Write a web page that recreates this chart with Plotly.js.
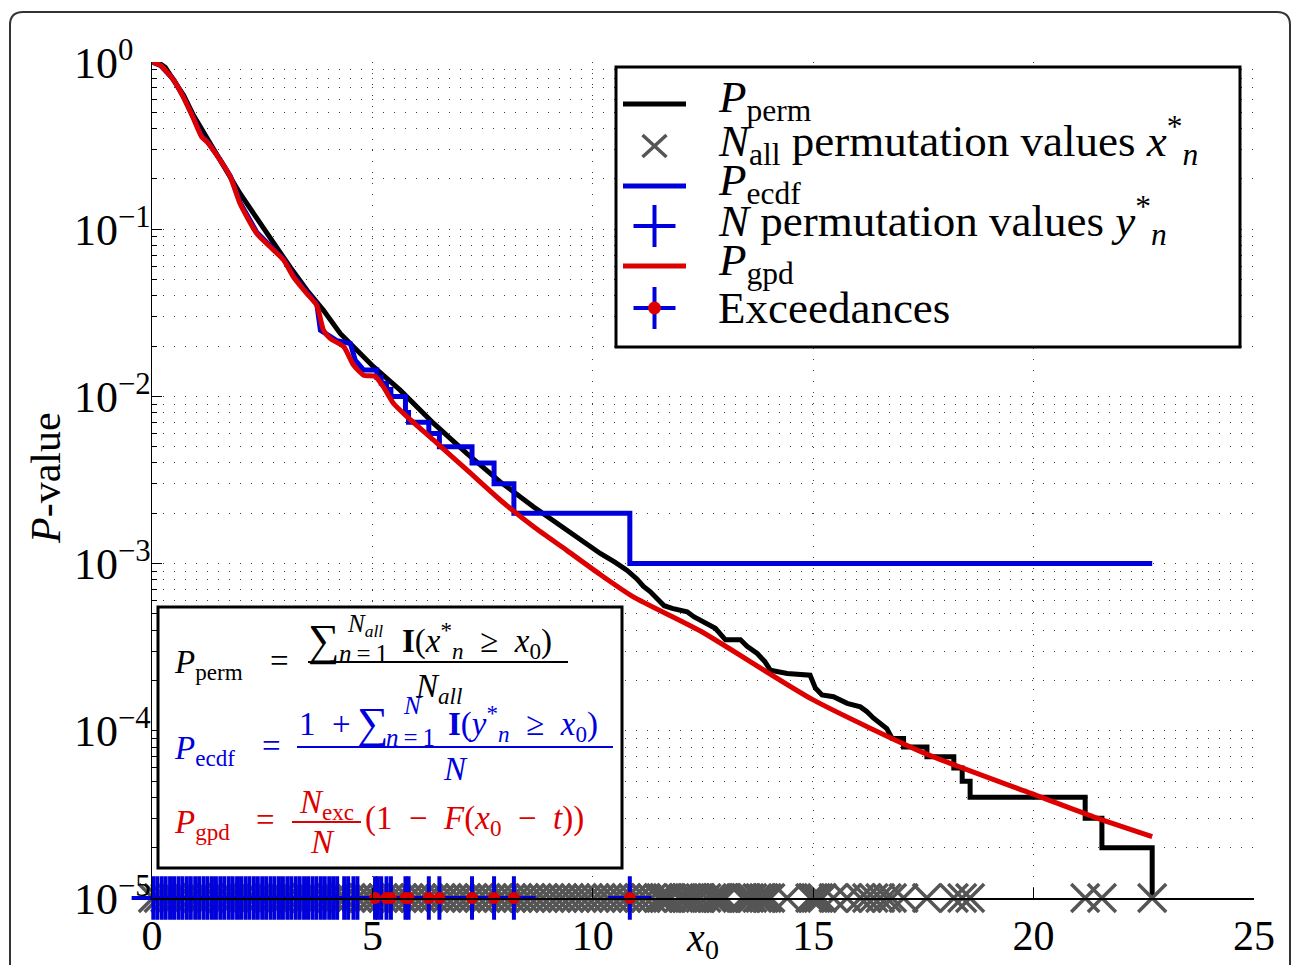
<!DOCTYPE html>
<html>
<head>
<meta charset="utf-8">
<script src="https://cdn.plot.ly/plotly-3.0.1.min.js"></script>
<style>
html,body{margin:0;padding:0;background:#fff;}
#chart{width:1293px;height:965px;}
</style>
</head>
<body>
<div id="chart"></div>
<script>
// ---------------- DATA ----------------
// P_perm : empirical p-value from all N_all permutations (black)
const permX = [0, 0.15, 0.30, 0.49, 0.72, 0.94, 1.25, 1.62, 2.00, 2.38, 2.76, 3.14, 3.52, 3.89, 4.27, 4.65, 5.03, 5.63, 6.39, 7.14, 7.90, 8.66, 9.41, 10.17, 10.50, 10.78, 11.00, 11.15, 11.30, 11.46, 11.62, 11.80, 12.14, 12.30, 12.44, 12.60, 12.78, 13.01, 13.35, 13.50, 13.73, 13.90, 14.03, 14.41, 14.93, 15.05, 15.20, 15.46, 15.77, 16.07, 16.22, 16.37, 16.52, 16.67, 16.79, 17.05, 17.05, 17.58, 17.58, 18.19, 18.19, 18.38, 18.38, 18.56, 18.56, 21.17, 21.17, 21.55, 21.55, 22.69, 22.69];
const permP = [1, 0.99, 0.93, 0.78, 0.63, 0.48, 0.35, 0.247, 0.163, 0.116, 0.082, 0.059, 0.043, 0.0327, 0.0238, 0.0189, 0.0150, 0.0109, 0.00689, 0.00456, 0.00308, 0.00218, 0.00158, 0.00115, 0.00102, 9.1e-4, 8.1e-4, 7.3e-4, 6.8e-4, 6.2e-4, 5.6e-4, 5.4e-4, 5.15e-4, 4.8e-4, 4.6e-4, 4.3e-4, 4.1e-4, 3.5e-4, 3.5e-4, 3.2e-4, 2.9e-4, 2.6e-4, 2.3e-4, 2.2e-4, 2.15e-4, 1.8e-4, 1.64e-4, 1.6e-4, 1.46e-4, 1.39e-4, 1.3e-4, 1.19e-4, 1.1e-4, 1.03e-4, 9e-5, 9e-5, 8e-5, 8e-5, 7e-5, 7e-5, 6e-5, 6e-5, 5e-5, 5e-5, 4e-5, 4e-5, 3e-5, 3e-5, 2e-5, 2e-5, 1e-5];

// P_ecdf : estimate from N permutations (blue)
const ecdfX = [0, 0.19, 0.49, 0.72, 0.94, 1.13, 1.25, 1.55, 1.78, 2.00, 2.38, 2.68, 2.99, 3.21, 3.52, 3.74, 3.82, 4.12, 4.20, 4.36, 4.50, 4.61, 4.80, 5.10, 5.10, 5.20, 5.20, 5.32, 5.32, 5.42, 5.42, 5.75, 5.75, 5.82, 5.82, 6.28, 6.28, 6.52, 6.52, 7.26, 7.26, 7.76, 7.76, 8.21, 8.21, 10.84, 10.84, 22.69];
const ecdfP = [1, 0.955, 0.785, 0.615, 0.465, 0.36, 0.336, 0.26, 0.207, 0.144, 0.0955, 0.0795, 0.066, 0.0525, 0.0415, 0.0355, 0.0249, 0.0222, 0.0215, 0.0211, 0.0207, 0.0165, 0.0144, 0.0144, 0.013, 0.013, 0.012, 0.012, 0.011, 0.011, 0.010, 0.010, 0.008, 0.008, 0.007, 0.007, 0.006, 0.006, 0.005, 0.005, 0.004, 0.004, 0.003, 0.003, 0.002, 0.002, 0.001, 0.001];

// P_gpd : generalized Pareto tail approximation (red)
const gpdX = [0, 0.19, 0.49, 0.72, 0.94, 1.13, 1.25, 1.55, 1.78, 2.00, 2.38, 2.68, 2.99, 3.21, 3.52, 3.74, 3.89, 4.04, 4.35, 4.57, 4.80, 5.06, 5.25, 5.48, 5.79, 6.39, 7.15, 7.90, 8.66, 9.41, 10.17, 10.93, 12.44, 15.00, 17.55, 20.15, 21.36, 22.69];
const gpdP = [1, 0.955, 0.78, 0.61, 0.46, 0.356, 0.333, 0.258, 0.205, 0.142, 0.094, 0.0785, 0.0652, 0.0518, 0.041, 0.035, 0.0249, 0.0222, 0.0198, 0.0154, 0.0134, 0.0132, 0.0114, 0.00907, 0.00755, 0.00547, 0.00362, 0.0024, 0.00166, 0.0012, 8.6e-4, 6.3e-4, 3.95e-4, 1.53e-4, 7.3e-5, 4.03e-5, 3.06e-5, 2.33e-5];

// N_all permutation values x*_n (grey crosses)
const allPermValues = [0.02, 0.15, 0.30, 0.44, 0.58, 0.73, 0.88, 1.02, 1.17, 1.31, 1.46, 1.60, 1.75, 1.90, 2.04, 2.19, 2.33, 2.48, 2.62, 2.77, 2.91, 3.06, 3.20, 3.35, 3.50, 3.64, 3.79, 3.93, 4.08, 4.22, 4.37, 4.51, 4.66, 4.80, 4.95, 5.09, 5.24, 5.38, 5.53, 5.67, 5.82, 5.97, 6.11, 6.26, 6.40, 6.55, 6.69, 6.84, 6.98, 7.13, 7.27, 7.42, 7.57, 7.71, 7.86, 8.00, 8.15, 8.29, 8.44, 8.58, 8.73, 8.87, 9.02, 9.17, 9.31, 9.46, 9.60, 9.75, 9.89, 10.04, 10.18, 10.33, 10.47, 10.62, 10.76, 10.91, 11.05, 11.20, 11.34, 11.49, 11.55, 11.62, 11.70, 11.78, 11.95, 12.05, 12.14, 12.25, 12.33, 12.44, 12.58, 12.70, 12.78, 12.85, 12.90, 12.97, 13.01, 13.40, 13.48, 13.55, 13.62, 13.73, 13.80, 13.88, 13.95, 14.03, 14.41, 14.93, 15.00, 15.06, 15.12, 15.20, 15.46, 15.77, 16.07, 16.22, 16.37, 16.52, 16.67, 16.79, 17.05, 17.58, 18.19, 18.38, 18.56, 21.17, 21.55, 22.69];

// N permutation values y*_n (blue plus signs)
const nPermValues = [0.03, 0.12, 0.22, 0.31, 0.41, 0.50, 0.60, 0.69, 0.79, 0.88, 0.98, 1.07, 1.17, 1.26, 1.36, 1.45, 1.55, 1.64, 1.74, 1.83, 1.93, 2.02, 2.12, 2.21, 2.31, 2.40, 2.50, 2.59, 2.69, 2.78, 2.88, 2.97, 3.07, 3.16, 3.26, 3.35, 3.45, 3.54, 3.64, 3.73, 3.83, 3.92, 4.02, 4.11, 4.20, 4.36, 4.45, 4.57, 4.66, 5.12, 5.20];

// Exceedances above the threshold t
const exceedances = [5.06, 5.32, 5.42, 5.75, 5.82, 6.28, 6.52, 7.26, 7.76, 8.21, 10.84];

// level at which the sample values are marked (bottom of the axis)
const markLevel = 1e-5;

// tick labels
const xTickVals = [0, 5, 10, 15, 20, 25];
const xTickText = ['0', '5', '10', '15', '20', '25'];
const yTickVals = [1e-5, 1e-4, 1e-3, 1e-2, 1e-1, 1];
const yTickText = ['10<sup>\u22125</sup>', '10<sup>\u22124</sup>', '10<sup>\u22123</sup>', '10<sup>\u22122</sup>', '10<sup>\u22121</sup>', '10<sup>0</sup>'];
const minorDigits = [2, 3, 4, 5, 6, 7, 8, 9];

// ---------------- STYLE ----------------
const BLACK = '#000000', BLUE = '#0000dd', RED = '#dd0000', GREY = '#555555';
const SERIF = 'Liberation Serif, Times New Roman, serif';

const W = 1293, H = 965;
const M = {l: 152, r: 39, t: 62, b: 67};
const PW = W - M.l - M.r, PH = H - M.t - M.b;
// pixel -> paper helpers for decorations
const px = v => (v - M.l) / PW;
const py = v => (H - M.b - v) / PH;

const minorVals = [];
yTickVals.slice(0, 5).forEach(d => minorDigits.forEach(k => minorVals.push(d * k)));

const constArr = (arr, v) => arr.map(() => v);

const traces = [
  {x: permX, y: permP, mode: 'lines', line: {color: BLACK, width: 5}, cliponaxis: false, hoverinfo: 'skip'},
  {x: allPermValues, y: constArr(allPermValues, markLevel), mode: 'markers', cliponaxis: false,
   marker: {symbol: 'x-thin', size: 28, line: {color: GREY, width: 3.5}}},
  {x: ecdfX, y: ecdfP, mode: 'lines', line: {color: BLUE, width: 5}, cliponaxis: false},
  {x: nPermValues, y: constArr(nPermValues, markLevel), mode: 'markers', cliponaxis: false,
   marker: {symbol: 'cross-thin', size: 31, line: {color: BLUE, width: 4}}},
  {x: exceedances, y: constArr(exceedances, markLevel), mode: 'markers', cliponaxis: false,
   marker: {symbol: 'cross-thin', size: 31, line: {color: BLUE, width: 4}}},
  {x: gpdX, y: gpdP, mode: 'lines', line: {color: RED, width: 5, shape: 'spline', smoothing: 0.6}, cliponaxis: false},
  {x: exceedances, y: constArr(exceedances, markLevel), mode: 'markers', cliponaxis: false,
   marker: {symbol: 'circle', size: 12, color: RED, line: {width: 0}}}
];

const dotGrid = '1px,10px';

// ------------- decorations: frame, legend box, formula box -------------
const shapes = [];
const ann = [];
// rounded outer frame
(function(){
  const xl = px(10), xr = px(1290), yt = py(12), yb = py(990);
  const rx = 13 / PW, ry = 13 / PH;
  shapes.push({type: 'path', xref: 'paper', yref: 'paper', layer: 'above',
    path: `M${xl},${yb} V${yt - ry} Q${xl},${yt} ${xl + rx},${yt} H${xr - rx} Q${xr},${yt} ${xr},${yt - ry} V${yb}`,
    line: {color: '#333', width: 2}});
})();
function rectPx(x0, y0, x1, y1, w) {
  shapes.push({type: 'rect', xref: 'paper', yref: 'paper', layer: 'above',
    x0: px(x0), x1: px(x1), y0: py(y1), y1: py(y0), line: {color: BLACK, width: w}, fillcolor: '#fff'});
}
function linePx(x0, y0, x1, y1, color, w) {
  shapes.push({type: 'line', xref: 'paper', yref: 'paper', layer: 'above',
    x0: px(x0), x1: px(x1), y0: py(y0), y1: py(y1), line: {color: color, width: w}});
}
function textPx(x, y, text, opts) {
  ann.push(Object.assign({xref: 'paper', yref: 'paper', x: px(x), y: py(y), text: text, showarrow: false,
    xanchor: 'left', yanchor: 'middle', font: {family: SERIF, size: 42, color: BLACK}}, opts || {}));
}

// y tick labels (left aligned, as in the reference)
yTickVals.forEach((v, i) => {
  ann.push({xref: 'paper', yref: 'y', x: px(72), y: Math.log10(v), text: yTickText[i], showarrow: false,
    xanchor: 'left', yanchor: 'middle', yshift: 2, font: {family: SERIF, size: 44, color: BLACK}});
});
// y axis title
ann.push({xref: 'paper', yref: 'paper', x: px(46), y: py(478), text: '<i>P</i>-value', showarrow: false,
  textangle: -90, xanchor: 'center', yanchor: 'middle', font: {family: SERIF, size: 42, color: BLACK}});

// legend box
rectPx(616, 67, 1240, 347, 3);
const lx0 = 623, lx1 = 686, lc = 654.5, tx = 716;
const rows = [104, 146, 186, 226, 266, 308];
linePx(lx0, rows[0], lx1, rows[0], BLACK, 5);
linePx(lc - 12, rows[1] - 11, lc + 12, rows[1] + 11, GREY, 3.5);
linePx(lc - 12, rows[1] + 11, lc + 12, rows[1] - 11, GREY, 3.5);
linePx(lx0, rows[2], lx1, rows[2], BLUE, 5);
linePx(lc - 21, rows[3], lc + 21, rows[3], BLUE, 4);
linePx(lc, rows[3] - 21, lc, rows[3] + 21, BLUE, 4);
linePx(lx0, rows[4], lx1, rows[4], RED, 5);
linePx(lc - 21, rows[5], lc + 21, rows[5], BLUE, 4);
linePx(lc, rows[5] - 21, lc, rows[5] + 21, BLUE, 4);
shapes.push({type: 'circle', xref: 'paper', yref: 'paper', layer: 'above',
  x0: px(lc - 6.5), x1: px(lc + 6.5), y0: py(rows[5] + 6.5), y1: py(rows[5] - 6.5),
  fillcolor: RED, line: {width: 0}});

const legendTexts = [
  '<i>P</i><sub>perm</sub>',
  '<i>N</i><sub>all</sub> permutation values <i>x</i><sup>*</sup><sub><i>n</i></sub>',
  '<i>P</i><sub>ecdf</sub>',
  '<i>N</i> permutation values <i>y</i><sup>*</sup><sub><i>n</i></sub>',
  '<i>P</i><sub>gpd</sub>',
  'Exceedances'
];
const legendTextY = [100, 140, 183, 220, 263, 308];
legendTexts.forEach((t, i) => textPx(tx, legendTextY[i], t, {font: {family: SERIF, size: 45, color: BLACK}}));

// formula box
rectPx(158, 607, 622, 868, 3);
const FS = 33, FSS = 25, SUM = 44;
const SP = '\u2002';
function ftext(x, y, t, color, size, anchor) {
  textPx(x, y, t, {font: {family: SERIF, size: size || FS, color: color}, xanchor: anchor || 'left'});
}
// line 1 (black)
ftext(172, 664, '<i>P</i><sub>perm</sub>', BLACK);
ftext(279, 661, '=', BLACK, FS, 'center');
ftext(306, 641, '\u2211', BLACK, SUM);
ftext(345, 625, '<i>N</i><sub><i>all</i></sub>', BLACK, FSS);
ftext(337, 653, '<i>n</i>\u2009=\u20091', BLACK, FSS);
ftext(400, 641, '<b>I</b>(<i>x</i><sup>*</sup><sub><i>n</i></sub>' + SP + '\u2265' + SP + '<i>x</i><sub>0</sub>)', BLACK);
linePx(308, 662, 568, 662, BLACK, 2);
ftext(438, 688, '<i>N</i><sub><i>all</i></sub>', BLACK, FS, 'center');
// line 2 (blue)
ftext(172, 750, '<i>P</i><sub>ecdf</sub>', BLUE);
ftext(271, 746, '=', BLUE, FS, 'center');
ftext(297, 724, '1' + SP + '+', BLUE);
ftext(355, 723, '\u2211', BLUE, SUM);
ftext(401, 705, '<i>N</i>', BLUE, FSS);
ftext(384, 737, '<i>n</i>\u2009=\u20091', BLUE, FSS);
ftext(446, 723, '<b>I</b>(<i>y</i><sup>*</sup><sub><i>n</i></sub>' + SP + '\u2265' + SP + '<i>x</i><sub>0</sub>)', BLUE);
linePx(297, 747, 613, 747, BLUE, 2);
ftext(455, 769, '<i>N</i>', BLUE, FS, 'center');
// line 3 (red)
ftext(172, 824, '<i>P</i><sub>gpd</sub>', RED);
ftext(265, 820, '=', RED, FS, 'center');
ftext(326, 804, '<i>N</i><sub>exc</sub>', RED, FS, 'center');
linePx(292, 822, 361, 822, RED, 2);
ftext(322, 842, '<i>N</i>', RED, FS, 'center');
ftext(363, 820, '(1' + SP + '\u2212' + SP + '<i>F</i>(<i>x</i><sub>0</sub>' + SP + '\u2212' + SP + '<i>t</i>))', RED);

const layout = {
  width: W, height: H,
  margin: M,
  paper_bgcolor: '#fff', plot_bgcolor: '#fff',
  showlegend: false,
  font: {family: SERIF, color: BLACK},
  xaxis: {
    range: [0, 25], tickvals: xTickVals, ticktext: xTickText,
    ticks: 'inside', ticklen: 10, tickwidth: 1, tickcolor: BLACK,
    showline: true, linecolor: BLACK, linewidth: 1.5,
    showgrid: true, gridcolor: 'rgba(0,0,0,0.75)', gridwidth: 1, griddash: dotGrid,
    zeroline: false, tickfont: {family: SERIF, size: 42, color: BLACK},
    title: {text: '<i>x</i><sub>0</sub>', font: {family: SERIF, size: 40, color: BLACK}, standoff: 0},
    automargin: false, fixedrange: true
  },
  yaxis: {
    type: 'log', range: [-5, 0], tickvals: yTickVals, showticklabels: false,
    ticks: 'inside', ticklen: 10, tickwidth: 1, tickcolor: BLACK,
    showline: true, linecolor: BLACK, linewidth: 1.5,
    showgrid: true, gridcolor: 'rgba(0,0,0,0.75)', gridwidth: 1, griddash: dotGrid,
    minor: {tickvals: minorVals, ticks: 'inside', ticklen: 5, tickcolor: BLACK,
            showgrid: true, gridcolor: 'rgba(0,0,0,0.75)', gridwidth: 1, griddash: dotGrid},
    zeroline: false,
    automargin: false, fixedrange: true
  },
  shapes: shapes,
  annotations: ann
};

Plotly.newPlot('chart', traces, layout, {displayModeBar: false, staticPlot: true});
</script>
</body>
</html>
